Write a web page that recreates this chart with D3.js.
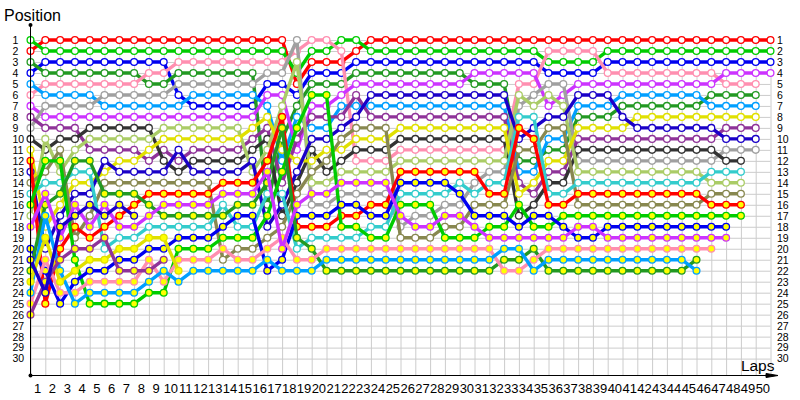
<!DOCTYPE html>
<html><head><meta charset="utf-8">
<script src="https://cdn.jsdelivr.net/npm/d3@7/dist/d3.min.js"></script>
<style>html,body{margin:0;padding:0;background:#fff}svg{display:block}</style>
</head><body><svg id="c" width="800" height="400"></svg>
<script>
const teamColors = {red:"#ff0000",green:"#00cc00",blue:"#0000f0",dkgreen:"#229922",pink:"#ff8fb0",sky:"#009fff",violet:"#cc33ff",gray:"#a0a0a0",purple:"#8f3399",dark:"#333333",lime:"#aacc66",yellow:"#e0e000",indigo:"#1a00c8",olive:"#888850",turq:"#33cccc"};
const redW=[2,1,1,1,1,1,1,1,1,1, 1,1,1,1,1,1,1,1,5,3, 3,3,2,1,1,1,1,1,1,1, 1,1,1,1,1,1,1,1,1,1, 1,1,1,1,1,1,1,1,1,1,1];
const greenW=[1,2,2,2,2,2,2,2,2,2, 2,2,2,2,2,2,2,2,4,2, 2,1,1,2,2,2,2,2,2,2, 2,2,2,2,2,3,3,3,3,2, 2,2,2,2,2,2,2,2,2,2,2];
const blueW=[4,3,3,3,3,3,3,3,3,3, 6,7,7,7,7,7,5,5,6,4, 4,4,3,3,3,3,3,3,3,3, 3,3,3,3,3,4,4,4,4,3, 3,3,3,3,3,3,3,3,3,3,3];
const dkgreenW=[3,4,4,4,4,4,4,4,5,5, 4,4,4,4,4,4,16,10,7,5, 5,5,4,4,4,4,4,4,4,4, 5,5,5,12,12,11,11,8,8,8, 7,7,7,7,7,7,6,6,6,6];
const pinkW=[6,5,5,5,5,5,5,5,4,4, 3,3,3,3,3,3,3,3,2,1, 1,2,12,12,12,11,11,11,11,11, 11,11,11,5,5,2,2,2,2,4, 4,4,4,4,4,4,4,5,5,5];
const skyW=[5,6,6,6,6,7,7,7,7,7, 7,6,6,6,6,6,7,12,8,9, 9,7,7,7,7,7,7,7,7,7, 7,7,7,13,13,10,10,7,7,7, 6,6,6,6,6,6,7,7,7,7];
const violetW=[7,8,8,8,8,8,8,8,8,8, 8,8,8,8,8,8,6,6,11,7, 7,6,5,5,5,5,5,5,5,5, 4,4,4,4,4,7,6,5,5,5, 5,5,5,5,5,5,5,4,4,4,4];
const grayW=[9,7,7,7,7,6,6,6,6,6, 5,5,5,5,5,5,4,4,1,16, 16,15,15,15,15,18,17,17,16,16, 14,13,13,7,6,5,5,12,12,12, 12,12,12,12,12,12,12,11,11,11];
const purpleW=[8,9,9,9,11,11,11,11,12,11, 12,11,11,11,11,10,9,14,10,8, 8,8,6,8,8,8,8,8,8,8, 8,8,8,14,15,13,13,10,10,10, 10,10,10,10,10,10,10,9,9,9];
const darkW=[10,11,10,10,9,9,9,9,9,12, 13,12,12,12,12,11,10,17,14,11, 13,12,11,11,11,10,10,10,10,10, 10,10,10,17,16,14,14,11,11,11, 11,11,11,11,11,11,11,12,12];
const limeW=[17,10,13,11,10,10,10,10,10,9, 9,9,9,9,9,13,11,7,3,14, 14,13,13,13,13,12,12,12,12,12, 12,12,12,6,7,6,7,13,13,13, 13,13,13,13,13,13,14,14,14];
const yellowW=[11,18,16,14,14,13,12,12,11,10, 10,10,10,10,10,9,8,11,12,12, 11,11,10,10,10,9,9,9,9,9, 9,9,9,15,14,12,12,9,9,9, 9,8,8,8,8,8,8,8,8,8];
const indigoW=[13,20,17,15,15,12,13,13,13,13, 11,13,13,13,13,12,18,16,13,10, 10,9,8,6,6,6,6,6,6,6, 6,6,6,10,9,8,8,6,6,6, 8,9,9,9,9,9,9,10,10,10];
const oliveW=[14,13,11,19,17,14,14,14,14,14, 14,14,14,21,20,20,19,18,15,13, 12,10,9,9,9,19,19,19,18,18, 16,16,16,11,11,9,9,16,16,16, 16,16,16,16,16,16,15,15,15];
const turqW=[15,14,14,13,13,20,19,19,18,18, 18,18,18,16,18,18,15,15,20,19, 19,19,19,18,18,15,15,15,15,14, 15,14,14,8,8,15,15,14,14,14, 14,14,14,14,14,14,13,13,13];
const redY=[12,25,20,18,19,18,17,16,15,15, 15,15,15,14,14,14,12,8,18,18, 18,17,17,16,16,13,13,13,13,13, 13,15,15,9,10,16,16,15,15,15, 15,15,15,15,15,15,16,16,16];
const greenY=[16,12,12,21,25,25,25,25,24,24, 20,20,20,19,19,19,17,13,9,6, 6,18,18,19,19,16,16,16,19,19, 19,18,18,16,18,18,17,17,17,17, 17,17,17,17,17,17,17,17,17];
const blueY=[20,22,25,23,22,22,21,21,20,20, 19,19,19,18,17,17,22,21,17,17, 17,16,16,17,17,14,14,14,14,15, 17,17,17,18,17,17,18,19,19,18, 18,18,18,18,18,18,18,18];
const dkgreenY=[22,16,15,12,12,15,15,15,16,17, 17,17,17,17,16,16,14,9,19,20, 22,22,22,22,22,22,22,22,22,22, 22,22,21,21,20,22,22,22,22,22, 22,22,22,22,22,21];
const pinkY=[25,21,24,24,23,23,23,23,21,23, 21,21,21,20,21,21,20,19,21,21, 20,20,20,20,20,20,20,20,20,20, 20,20,22,22,21,20,20,20,20,20, 20,20,20,20,20,20,20];
const skyY=[24,17,22,25,24,24,24,24,23,22, 23,22,22,22,22,22,21,22,22,22, 21,21,21,21,21,21,21,21,21,21, 21,21,20,20,22,21,21,21,21,21, 21,21,21,21,21,22];
const violetY=[18,15,19,16,18,16,18,18,17,16, 16,16,16,15,15,15,13,20,16,15, 15,14,14,14,14,17,18,18,17,17, 18,19,19,19,19,19,19,18,18,19, 19,19,19,19,19,19,19,19];
const yellowY=[23,19,23,22,21,21,20,20,19,19,22];
const purpleY=[26,23,21,20,20,19,22,22,22,21];
const indigoY=[21,24,18,17,16,17,16,17];

const cars=[
 ["red",redW,"#fff"],["green",greenW,"#fff"],["blue",blueW,"#fff"],["dkgreen",dkgreenW,"#fff"],["pink",pinkW,"#fff"],
 ["sky",skyW,"#fff"],["violet",violetW,"#fff"],["gray",grayW,"#fff"],["purple",purpleW,"#fff"],["dark",darkW,"#fff"],
 ["lime",limeW,"#fff"],["yellow",yellowW,"#fff"],["indigo",indigoW,"#fff"],["olive",oliveW,"#fff"],["turq",turqW,"#fff"],
 ["red",redY,"#ffff00"],["green",greenY,"#ffff00"],["blue",blueY,"#ffff00"],["dkgreen",dkgreenY,"#ffff00"],["pink",pinkY,"#ffff00"],
 ["sky",skyY,"#ffff00"],["violet",violetY,"#ffff00"],["yellow",yellowY,"#ffff00"],["purple",purpleY,"#ffff00"],["indigo",indigoY,"#ffff00"]
];
const lapTicks=d3.range(1,51);
const posTicks=d3.range(1,31);

const svg=d3.select("#c");
const x=d3.scaleLinear().domain([0,50]).range([30.5,770.5]);
const y=d3.scaleLinear().domain([1,30]).range([40,358.6]);
const bottom=375.5;
const FONT='"Liberation Sans",sans-serif';

// grid
const gx=svg.append("g").attr("transform",`translate(0,${bottom})`)
 .call(d3.axisBottom(x).tickValues(d3.range(0,51)).tickSize(-(bottom-40)).tickFormat(""));
gx.select(".domain").remove();
gx.selectAll("line").attr("stroke","#cccccc").attr("stroke-width",1);
const gy=svg.append("g").attr("transform",`translate(30.5,0)`)
 .call(d3.axisRight(y).tickValues(posTicks).tickSize(740).tickFormat(""));
gy.select(".domain").remove();
gy.selectAll("line").attr("stroke","#cccccc").attr("stroke-width",1);

// labels
const yl=svg.append("g").attr("transform","translate(12.5,0)").call(d3.axisLeft(y).tickValues(posTicks).tickSize(0).tickPadding(0).tickFormat(d=>d));
yl.select(".domain").remove();
yl.selectAll("text").attr("text-anchor","start").attr("font-family",FONT).attr("font-size",10.5).attr("fill","#000");
const yr=svg.append("g").attr("transform","translate(777,0)").call(d3.axisRight(y).tickValues(posTicks).tickSize(0).tickPadding(0).tickFormat(d=>d));
yr.select(".domain").remove();
yr.selectAll("text").attr("font-family",FONT).attr("font-size",10.5).attr("fill","#000");
const xl=svg.append("g").attr("transform",`translate(0,${bottom+8})`)
 .call(d3.axisBottom(x).tickValues(lapTicks.map(d=>d-0.55)).tickSize(0).tickPadding(0).tickFormat(d=>Math.round(d+0.55)));
xl.select(".domain").remove();
xl.selectAll("text").attr("font-family",FONT).attr("font-size",13).attr("fill","#000");

// series
const line=d3.line().x((d,i)=>x(i)).y(d=>y(d));
cars.forEach(([team,vals,fill])=>{
  const c=teamColors[team];
  const g=svg.append("g");
  g.append("path").attr("d",line(vals)).attr("fill","none").attr("stroke",c).attr("stroke-width",3.4).attr("stroke-linejoin","round");
  g.selectAll("circle").data(vals).join("circle").attr("cx",(d,i)=>x(i)).attr("cy",d=>y(d)).attr("r",3.4)
    .attr("fill",fill).attr("stroke",c).attr("stroke-width",1.3);
});

// axes lines
svg.append("line").attr("x1",30.5).attr("x2",30.5).attr("y1",25).attr("y2",bottom).attr("stroke","#000");
svg.append("line").attr("x1",30.5).attr("x2",770).attr("y1",bottom).attr("y2",bottom).attr("stroke","#000").attr("stroke-width",1);
svg.append("path").attr("d",`M766,${bottom-2}L778,${bottom}L766,${bottom+2}Z`).attr("fill","#000").attr("stroke","#000");
svg.append("circle").attr("cx",30.5).attr("cy",25).attr("r",2).attr("fill","#000");
svg.append("circle").attr("cx",30.5).attr("cy",bottom).attr("r",2).attr("fill","#000");
svg.append("text").attr("x",4).attr("y",21).attr("font-family",FONT).attr("font-size",16).text("Position");
svg.append("text").attr("x",774.5).attr("y",371).attr("text-anchor","end").attr("font-family",FONT).attr("font-size",15.5).text("Laps");
</script></body></html>
